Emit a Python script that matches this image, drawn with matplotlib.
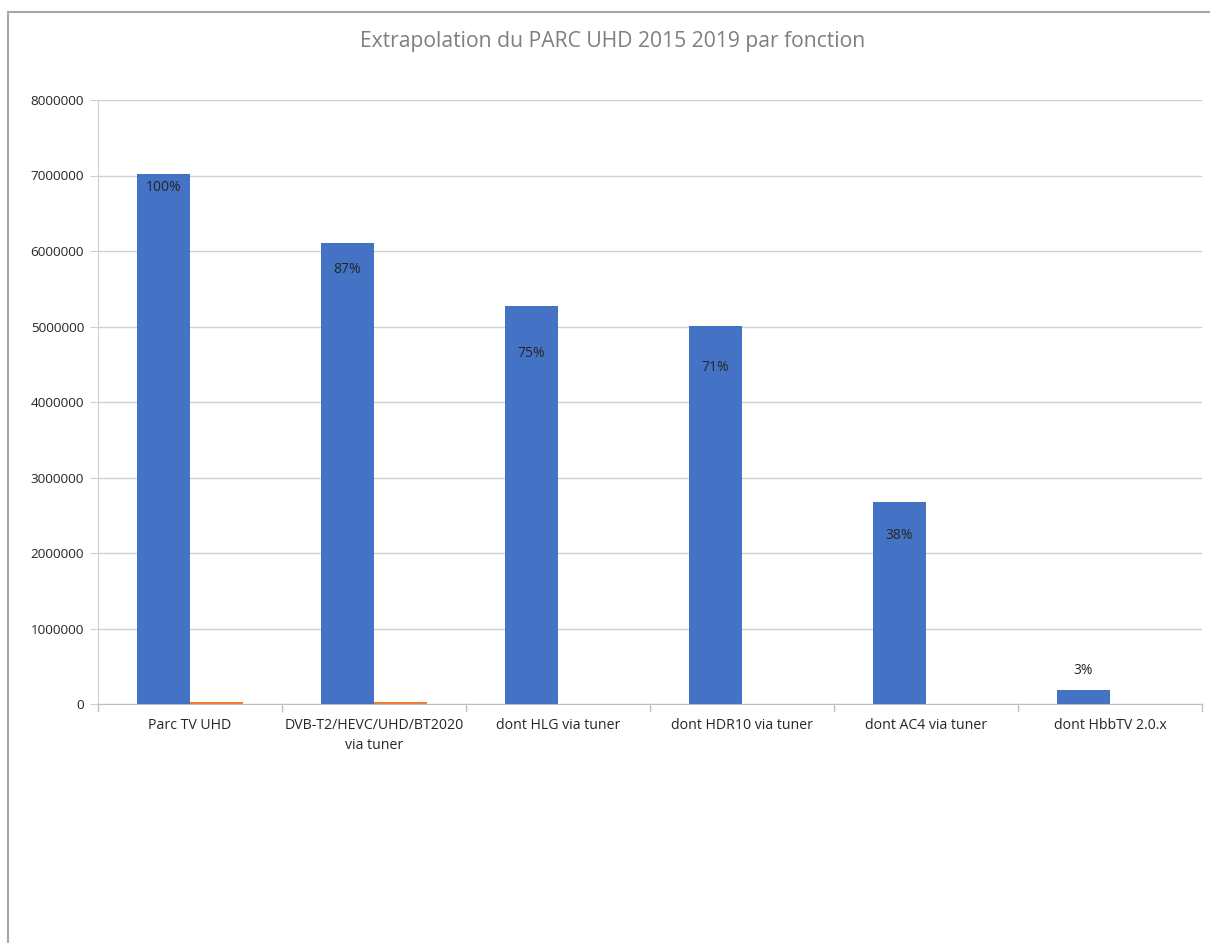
import matplotlib
matplotlib.use("Agg")
import matplotlib.pyplot as plt
from matplotlib.patches import Rectangle
from matplotlib.lines import Line2D

categories = ["Parc TV UHD", "DVB-T2/HEVC/UHD/BT2020\nvia tuner", "dont HLG via tuner",
              "dont HDR10 via tuner", "dont AC4 via tuner", "dont HbbTV 2.0.x"]
series1 = [7020000, 6110000, 5270000, 5010000, 2670000, 185000]
series2 = [26000, 23000, 0, 0, 0, 0]
pct_labels = ["100%", "87%", "75%", "71%", "38%", "3%"]
yticks = [0, 1000000, 2000000, 3000000, 4000000, 5000000, 6000000, 7000000, 8000000]
title = "Extrapolation du PARC UHD 2015 2019 par fonction"

# label vertical offsets in points (style, not data)
label_offsets = [-10, -19, -34, -30, -24, 14]

plt.rcParams['font.family'] = ['Open Sans', 'DejaVu Sans']

fig = plt.figure(figsize=(12.1, 9.43), dpi=100)
fig.patches.append(Rectangle((8/1210, -0.1), 1.2, 1.1 - 12/943, transform=fig.transFigure,
                             fill=False, edgecolor="#a6a6a6", linewidth=1.5, zorder=0))
ax = fig.add_axes([98/1210, 1-704/943, (1202-98)/1210, (704-100)/943])

n = len(categories)
x = list(range(n))
w = 0.29
b1 = ax.bar([i - w/2 for i in x], series1, width=w, color="#4472c4", linewidth=0, zorder=3)
b2 = ax.bar([i + w/2 for i in x], series2, width=w, color="#ed7d31", linewidth=0, zorder=3)

for rect, lab, off in zip(b1, pct_labels, label_offsets):
    ax.annotate(lab, (rect.get_x() + rect.get_width()/2, rect.get_height()),
                xytext=(0, off), textcoords="offset points", ha="center", va="center",
                fontsize=10, color="#262626", zorder=5)

ax.set_xlim(-0.5, n - 0.5)
ax.set_ylim(0, 8000000)
ax.set_yticks(yticks)
ax.set_yticklabels([str(v) for v in yticks], fontsize=9.7, color="#262626")
ax.yaxis.grid(True, color="#d0d0d0", linewidth=1)
ax.set_axisbelow(True)
ax.tick_params(axis="y", length=6, color="#d0d0d0", pad=4)

ax.set_xticks(x)
ax.set_xticklabels(categories, fontsize=10.2, color="#262626", linespacing=1.45)
ax.tick_params(axis="x", length=0, pad=10)
for b in [i - 0.5 for i in range(n + 1)]:
    ax.add_line(Line2D([b, b], [0, -0.012], transform=ax.get_xaxis_transform(),
                       color="#bfbfbf", linewidth=1, clip_on=False))

for s in ["top", "right"]:
    ax.spines[s].set_visible(False)
ax.spines["left"].set_color("#d0d0d0")
ax.spines["bottom"].set_color("#bfbfbf")

fig.text(613/1210, 1-41/943, title, ha="center", va="center", fontsize=15.2, color="#7f7f7f")

fig.savefig("out.png", dpi=100)
